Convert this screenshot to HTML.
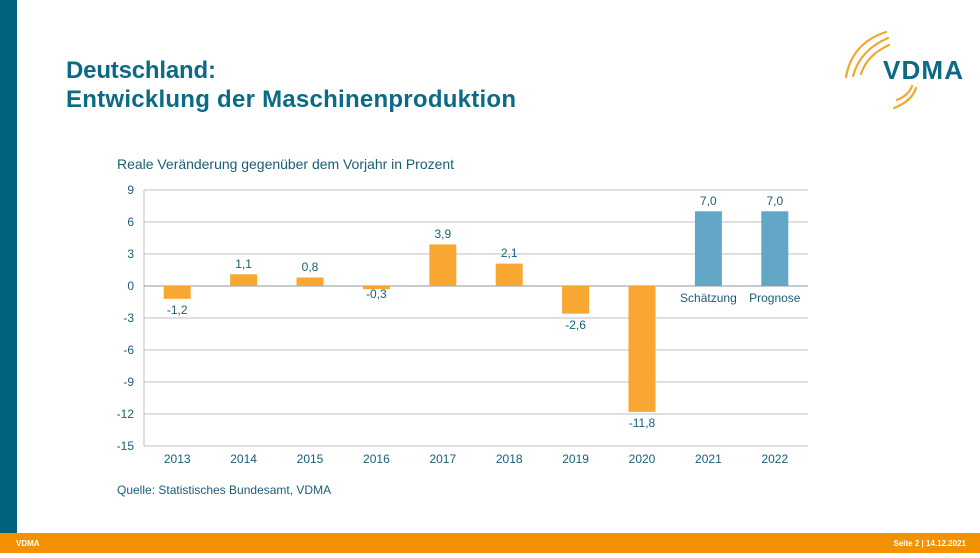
<!DOCTYPE html>
<html><head><meta charset="utf-8"><style>
body{margin:0;width:980px;height:553px;overflow:hidden;background:#fff;font-family:"Liberation Sans",sans-serif}
</style></head><body>
<svg width="980" height="553" xmlns="http://www.w3.org/2000/svg" font-family="Liberation Sans, sans-serif">
<rect x="0" y="0" width="17" height="533" fill="#00627d"/>
<rect x="0" y="533" width="980" height="20" fill="#f39200"/>
<text x="16" y="546" font-size="8" font-weight="bold" fill="#fff">VDMA</text>
<text x="966" y="546" font-size="8" font-weight="bold" fill="#fff" text-anchor="end">Seite 2 | 14.12.2021</text>
<text x="66" y="78" font-size="24" font-weight="bold" fill="#0b6a85" textLength="150">Deutschland:</text>
<text x="66" y="107" font-size="24" font-weight="bold" fill="#0b6a85" textLength="450">Entwicklung der Maschinenproduktion</text>
<text x="117" y="169" font-size="14" fill="#1a5e74" textLength="337">Reale Veränderung gegenüber dem Vorjahr in Prozent</text>
<text x="117" y="494" font-size="12" fill="#1a5e74">Quelle: Statistisches Bundesamt, VDMA</text>
<g fill="none" stroke="#f0a830" stroke-width="2.2" stroke-linecap="round">
<path d="M846 77 Q852 43 886 32"/>
<path d="M853 76 Q860 50 888 38"/>
<path d="M861 74 Q867 55 889 45"/>
<path d="M894 108 Q912 101 916 88"/>
<path d="M897 100 Q909 95 912 86"/>
</g>
<text x="883" y="79" font-size="26" font-weight="bold" fill="#0b6a85" textLength="80">VDMA</text>
<g stroke="#bfbfbf" stroke-width="1">
<line x1="144" y1="190" x2="808" y2="190"/><line x1="144" y1="222" x2="808" y2="222"/>
<line x1="144" y1="254" x2="808" y2="254"/><line x1="144" y1="318" x2="808" y2="318"/>
<line x1="144" y1="350" x2="808" y2="350"/><line x1="144" y1="382" x2="808" y2="382"/>
<line x1="144" y1="414" x2="808" y2="414"/><line x1="144" y1="446" x2="808" y2="446"/>
<line x1="144" y1="190" x2="144" y2="446"/>
</g>
<line x1="144" y1="286" x2="808" y2="286" stroke="#8a9aa0" stroke-width="1"/>
<g font-size="12" fill="#1a5e74" text-anchor="end">
<text x="134" y="194">9</text><text x="134" y="226">6</text><text x="134" y="258">3</text>
<text x="134" y="290">0</text><text x="134" y="322">-3</text><text x="134" y="354">-6</text>
<text x="134" y="386">-9</text><text x="134" y="418">-12</text><text x="134" y="450">-15</text>
</g>
<g fill="#f9a733">
<rect x="163.7" y="286" width="27" height="12.8"/>
<rect x="230.1" y="274.3" width="27" height="11.7"/>
<rect x="296.5" y="277.5" width="27" height="8.5"/>
<rect x="362.9" y="286" width="27" height="3.2"/>
<rect x="429.3" y="244.4" width="27" height="41.6"/>
<rect x="495.7" y="263.6" width="27" height="22.4"/>
<rect x="562.1" y="286" width="27" height="27.7"/>
<rect x="628.5" y="286" width="27" height="125.9"/>
</g>
<g fill="#63a7c8">
<rect x="694.9" y="211.3" width="27" height="74.7"/>
<rect x="761.3" y="211.3" width="27" height="74.7"/>
</g>
<g font-size="12" fill="#1a5e74" text-anchor="middle">
<text x="177.2" y="314">-1,2</text>
<text x="243.6" y="268">1,1</text>
<text x="310" y="271">0,8</text>
<text x="376.4" y="298">-0,3</text>
<text x="442.8" y="238">3,9</text>
<text x="509.2" y="257">2,1</text>
<text x="575.6" y="329">-2,6</text>
<text x="642" y="427">-11,8</text>
<text x="708.4" y="205">7,0</text>
<text x="774.8" y="205">7,0</text>
<text x="708.4" y="302">Schätzung</text>
<text x="774.8" y="302">Prognose</text>
<text x="177.2" y="463">2013</text><text x="243.6" y="463">2014</text><text x="310" y="463">2015</text>
<text x="376.4" y="463">2016</text><text x="442.8" y="463">2017</text><text x="509.2" y="463">2018</text>
<text x="575.6" y="463">2019</text><text x="642" y="463">2020</text><text x="708.4" y="463">2021</text>
<text x="774.8" y="463">2022</text>
</g>
</svg>
</body></html>
